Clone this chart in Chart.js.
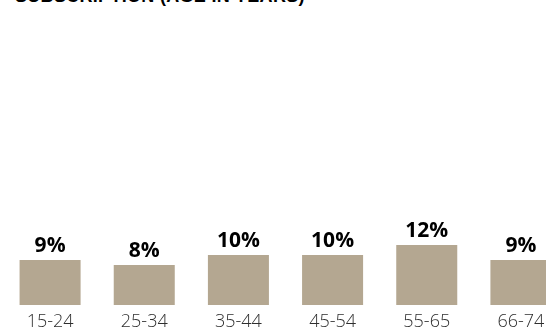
<!DOCTYPE html>
<html>
<head>
<meta charset="utf-8">
<script src="https://cdn.jsdelivr.net/npm/chart.js@4/dist/chart.umd.min.js"></script>
<style>
  html, body { margin: 0; padding: 0; background: #ffffff; }
  body { width: 546px; height: 327px; overflow: hidden; position: relative; }
  #title {
    position: absolute; left: 15px; top: -13px; margin: 0;
    font: bold 18px "Liberation Sans", Arial, sans-serif; line-height: 18px;
    color: #000000; white-space: nowrap; letter-spacing: 0.3px;
  }
  #chart { position: absolute; left: 0; top: 0; }
</style>
</head>
<body>
<div id="title">SUBSCRIPTION (AGE IN YEARS)</div>
<canvas id="chart" width="568" height="340"></canvas>
<script>
// Age groups and share of subscribers in each (percent)
const ageGroups = ["15-24", "25-34", "35-44", "45-54", "55-65", "66-74"];
const sharePct = [9, 8, 10, 10, 12, 9];

// Writes "NN%" above each bar from the bar's own value
const valueLabels = {
  id: "valueLabels",
  afterDatasetsDraw(chart) {
    const ctx = chart.ctx;
    const meta = chart.getDatasetMeta(0);
    ctx.save();
    ctx.font = "bold 21px 'Open Sans', sans-serif";
    ctx.fillStyle = "#000000";
    ctx.textAlign = "center";
    ctx.textBaseline = "alphabetic";
    meta.data.forEach((bar, i) => {
      ctx.fillText(chart.data.datasets[0].data[i] + "%", bar.x, bar.y - 8);
    });
    ctx.restore();
  }
};

new Chart(document.getElementById("chart"), {
  type: "bar",
  data: {
    labels: ageGroups,
    datasets: [{
      data: sharePct,
      backgroundColor: "#b4a791",
      borderWidth: 0,
      categoryPercentage: 1,
      barPercentage: 0.648
    }]
  },
  options: {
    responsive: false,
    animation: false,
    devicePixelRatio: 1,
    layout: { padding: { left: 3, right: 0, top: 105, bottom: 0 } },
    plugins: { legend: { display: false }, tooltip: { enabled: false } },
    scales: {
      x: {
        grid: { display: false, drawTicks: false },
        border: { display: false },
        ticks: {
          color: "#2e2e2e",
          font: { family: "'Open Sans', sans-serif", size: 18, weight: 300 },
          padding: 6,
          maxRotation: 0
        },
        afterFit(scale) { scale.height = 35; }
      },
      y: {
        display: false,
        min: 0,
        max: 40
      }
    }
  },
  plugins: [valueLabels]
});
</script>
</body>
</html>
